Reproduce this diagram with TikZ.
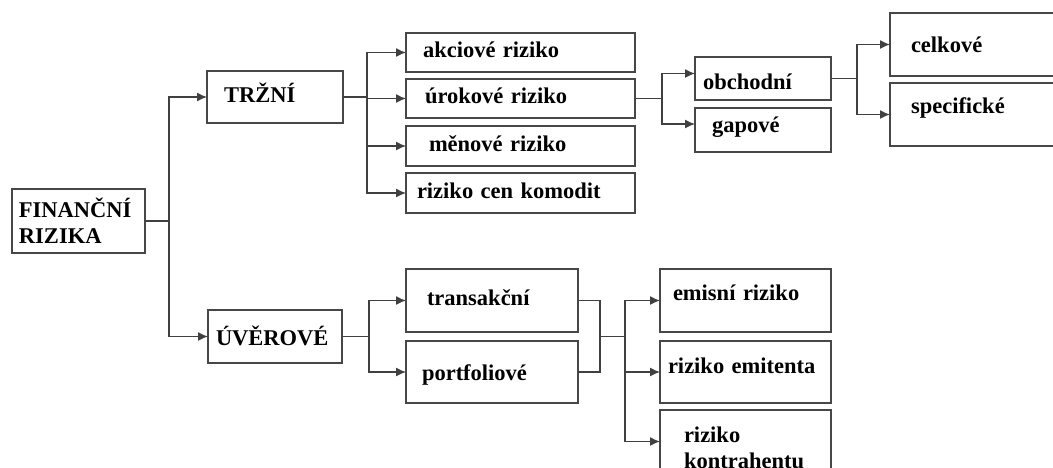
\documentclass[tikz,border=0pt]{standalone}
\usepackage{fontspec}
\setmainfont{Liberation Serif}
\usetikzlibrary{arrows.meta,calc}
\begin{document}
\begin{tikzpicture}[x=1pt,y=-1pt]
        \tikzstyle{box}=[draw=black!72, line width=1.4pt, anchor=north west, align=left, inner ysep=0pt, outer sep=0pt, font=\bfseries\fontsize{22.5}{26}\selectfont]
        \tikzstyle{cell}=[box, text height=15pt, text depth=5pt]
        \tikzstyle{link}=[draw=black!75, line width=1.3pt]
        \tikzstyle{linkarr}=[link, -{Latex[length=10pt,width=9pt]}]
        \useasboundingbox (0,0) rectangle (1053,467);
        \clip (0,0) rectangle (1053,467);
        % level 1 and 2
        \node[box, minimum height=64pt, text width=119pt, inner xsep=7pt] (fin) at (12,189) {FINANČNÍ\\RIZIKA};
        \node[cell, minimum height=52pt, text width=102pt, inner xsep=17pt] (trz) at (207,71) {TRŽNÍ};
        \node[cell, minimum height=53pt, text width=118pt, inner xsep=8pt, text height=22pt] (uver) at (208,310) {ÚVĚROVÉ};
        % market risks
        \node[cell, minimum height=39pt, text width=195pt, inner xsep=17pt] (akc) at (406,33) {akciové riziko};
        \node[cell, minimum height=39pt, text width=191pt, inner xsep=19pt] (uro) at (406,79) {úrokové riziko};
        \node[cell, minimum height=40pt, text width=183pt, inner xsep=23pt] (men) at (406,126) {měnové riziko};
        \node[cell, minimum height=40pt, text width=207pt, inner xsep=11pt] (kom) at (406,173) {riziko cen komodit};
        \node[cell, minimum height=43pt, text width=120pt, inner xsep=8pt, text height=27pt] (obch) at (695,57) {obchodní};
        \node[cell, minimum height=44pt, text width=102pt, inner xsep=17pt, text depth=11pt] (gap) at (695,108) {gapové};
        \node[cell, minimum height=63pt, text width=128pt, inner xsep=21pt, text height=20pt] (celk) at (890,13) {celkové};
        \node[cell, minimum height=63pt, text width=128pt, inner xsep=21pt, text depth=17pt] (spec) at (890,83) {specifické};
        % credit risks
        \node[cell, minimum height=63pt, text width=130pt, inner xsep=21pt] (trans) at (406,269) {transakční};
        \node[cell, minimum height=62pt, text width=140pt, inner xsep=16pt, text height=21pt] (port) at (406,341) {portfoliové};
        \node[cell, minimum height=63pt, text width=145pt, inner xsep=13pt, text depth=15pt] (emis) at (660,269) {emisní riziko};
        \node[cell, minimum height=62pt, text width=155pt, inner xsep=8pt, text depth=13pt] (emit) at (660,341) {riziko emitenta};
        \node[box, minimum height=63pt, text width=123pt, inner xsep=24pt] (kontr) at (660,410) {\rule{0pt}{28pt}riziko\\kontrahentu};
        % connectors
        \draw[link] (fin.east) -- ++(24,0) coordinate (jfin);
        \draw[linkarr] (jfin) |- (trz.west);
        \draw[linkarr] (jfin) |- (uver.west);
        \draw[link] (trz.east) -- ++(24,0) coordinate (jtrz);
        \draw[linkarr] (jtrz) |- (akc.west);
        \draw[linkarr] (jtrz) |- (uro.west);
        \draw[linkarr] (jtrz) |- (men.west);
        \draw[linkarr] (jtrz) |- (kom.west);
        \draw[link] (uro.east) -- ++(27,0) coordinate (juro);
        \draw[linkarr] (juro) |- ([yshift=5pt]obch.west);
        \draw[linkarr] (juro) |- ([yshift=6pt]gap.west);
        \draw[link] (obch.east) -- ++(26,0) coordinate (jobch);
        \draw[linkarr] (jobch) |- (celk.west);
        \draw[linkarr] (jobch) |- (spec.west);
        \draw[link] (uver.east) -- ++(27,0) coordinate (juver);
        \draw[linkarr] (juver) |- (trans.west);
        \draw[linkarr] (juver) |- (port.west);
        \coordinate (jpair) at ($(trans.east)!0.5!(port.east)+(22,0)$);
        \draw[link] (trans.east) -| (jpair) |- (port.east);
        \draw[link] (jpair) -- ++(25,0) coordinate (jcred);
        \draw[linkarr] (jcred) |- (emis.west);
        \draw[linkarr] (jcred) |- (emit.west);
        \draw[linkarr] (jcred) |- (kontr.west);
    \end{tikzpicture}
\end{document}
